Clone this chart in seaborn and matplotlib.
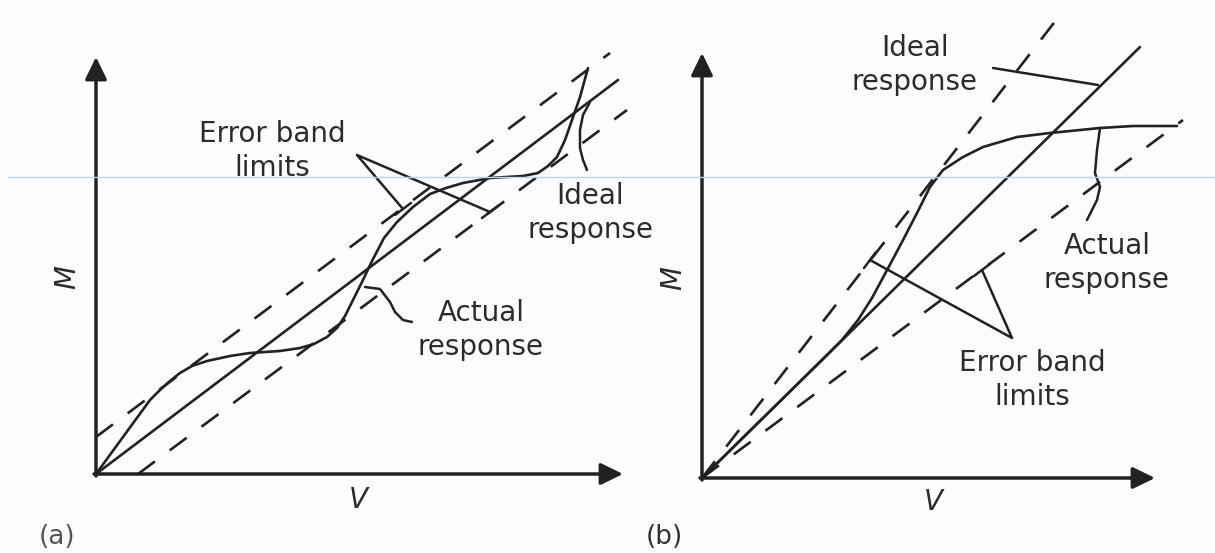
import matplotlib
matplotlib.use("Agg")
import matplotlib.pyplot as plt
import seaborn as sns

# ---------- panel (a): values measured from the axis origin (1 unit = 1 px) ----------
a_ideal_v = [0, 522]
a_ideal_m = [0, 394]
a_upper_v = [0, 514]
a_upper_m = [37, 421]
a_lower_v = [42, 531]
a_lower_m = [0, 364]
a_actual_v = [0, 27, 54, 64, 74, 84, 96, 111, 134, 154, 184, 204, 218, 231, 241, 249,
              257, 266, 276, 288, 301, 317, 334, 350, 367, 394, 427, 442, 452, 461,
              469, 476, 484, 492]
a_actual_m = [0, 37, 74, 84, 93, 101, 108, 113, 118, 121, 123, 126, 130, 137, 146, 158,
              174, 192, 213, 236, 252, 267, 280, 286, 291, 296, 298, 301, 308, 317,
              334, 354, 377, 406]

# leader lines for the labels of (a)
a_err_v = [307, 261, 394]
a_err_m = [265, 319, 262]
a_err_tick1_v = [299, 315]
a_err_tick1_m = [259, 271]
a_err_tick2_v = [386, 402]
a_err_tick2_m = [256, 268]
a_ideal_ptr_v = [494, 487, 484, 484, 487, 491]
a_ideal_ptr_m = [372, 359, 344, 326, 314, 304]
a_act_ptr_v = [269, 284, 294, 299, 307, 316]
a_act_ptr_m = [187, 185, 172, 162, 154, 152]

# ---------- panel (b) ----------
b_ideal_v = [0, 438]
b_ideal_m = [0, 431]
b_upper_v = [0, 358]
b_upper_m = [0, 463]
b_lower_v = [0, 481]
b_lower_m = [0, 358]
b_actual_v = [0, 60, 120, 140, 156, 170, 184, 200, 215, 228, 241, 261, 281, 315,
              348, 398, 431, 475]
b_actual_m = [0, 59, 118, 138, 158, 180, 206, 236, 265, 291, 308, 321, 331, 341,
              345, 350, 352, 352]

b_err_v = [168, 310, 280]
b_err_m = [218, 140, 208]
b_err_tick1_v = [162, 174]
b_err_tick1_m = [210, 226]
b_err_tick2_v = [272, 288]
b_err_tick2_m = [202, 214]
b_ideal_ptr_v = [291, 396]
b_ideal_ptr_m = [410, 393]
b_act_ptr_v = [398, 395, 393, 398, 395, 385]
b_act_ptr_m = [350, 328, 305, 291, 278, 258]

INK = "#222222"
TXT = "#2b2b2b"
DASH = (0, (8, 7))

sns.set_theme(style="white")
plt.rcParams["font.family"] = ["DejaVu Sans"]

fig = plt.figure(figsize=(12.15, 5.53), dpi=100)
fig.patch.set_facecolor("#fdfdfd")

# axes sized so one data unit is one pixel
ax_a = fig.add_axes([0, 0, 650 / 1215, 1])
ax_a.set_xlim(-96, 554)
ax_a.set_ylim(-79, 474)
ax_b = fig.add_axes([650 / 1215, 0, 565 / 1215, 1])
ax_b.set_xlim(-52, 513)
ax_b.set_ylim(-75, 478)


def line(ax, v, m, dashed=False, lw=1.9):
    sns.lineplot(x=v, y=m, ax=ax, sort=False, estimator=None, color=INK, lw=lw,
                 linestyle=DASH if dashed else "-", solid_capstyle="round")


def axes_arrows(ax, w, h):
    style = dict(arrowstyle="-|>,head_length=0.45,head_width=0.22", lw=2.5,
                 color=INK, mutation_scale=30, shrinkA=0, shrinkB=0)
    ax.annotate("", xy=(w, 0), xytext=(-2, 0), arrowprops=style)
    ax.annotate("", xy=(0, h), xytext=(0, -2), arrowprops=style)


def label(ax, x, y, s, **kw):
    ax.text(x, y, s, ha="center", va="center", fontsize=20, color=TXT,
            linespacing=1.25, **kw)


# panel (a)
axes_arrows(ax_a, 527, 417)
line(ax_a, a_ideal_v, a_ideal_m)
line(ax_a, a_upper_v, a_upper_m, dashed=True)
line(ax_a, a_lower_v, a_lower_m, dashed=True)
line(ax_a, a_actual_v, a_actual_m)
line(ax_a, a_err_v, a_err_m, lw=1.8)
line(ax_a, a_err_tick1_v, a_err_tick1_m, lw=1.8)
line(ax_a, a_err_tick2_v, a_err_tick2_m, lw=1.8)
line(ax_a, a_ideal_ptr_v, a_ideal_ptr_m, lw=1.8)
line(ax_a, a_act_ptr_v, a_act_ptr_m, lw=1.8)

label(ax_a, 176, 323, "Error band\nlimits")
label(ax_a, 494, 261, "Ideal\nresponse")
label(ax_a, 385, 144, "Actual\nresponse")
label(ax_a, 262, -26, "V", style="italic")
label(ax_a, -29, 197, "M", style="italic", rotation=90)
ax_a.text(-39, -63, "(a)", ha="center", va="center", fontsize=19, color="#555555")

# panel (b)
axes_arrows(ax_b, 453, 425)
line(ax_b, b_ideal_v, b_ideal_m)
line(ax_b, b_upper_v, b_upper_m, dashed=True)
line(ax_b, b_lower_v, b_lower_m, dashed=True)
line(ax_b, b_actual_v, b_actual_m)
line(ax_b, b_err_v, b_err_m, lw=1.8)
line(ax_b, b_err_tick1_v, b_err_tick1_m, lw=1.8)
line(ax_b, b_err_tick2_v, b_err_tick2_m, lw=1.8)
line(ax_b, b_ideal_ptr_v, b_ideal_ptr_m, lw=1.8)
line(ax_b, b_act_ptr_v, b_act_ptr_m, lw=1.8)

label(ax_b, 213, 413, "Ideal\nresponse")
label(ax_b, 405, 215, "Actual\nresponse")
label(ax_b, 330, 98, "Error band\nlimits")
label(ax_b, 231, -24, "V", style="italic")
label(ax_b, -29, 200, "M", style="italic", rotation=90)
ax_b.text(-38, -59, "(b)", ha="center", va="center", fontsize=19, color="#333333")

for ax in (ax_a, ax_b):
    ax.axis("off")

# faint scanner guide line across the page
fig.add_artist(plt.Line2D([8 / 1215, 1], [1 - 177 / 553] * 2, transform=fig.transFigure,
                          color="#bcd3f0", lw=1))

fig.savefig("out.png", dpi=100)
